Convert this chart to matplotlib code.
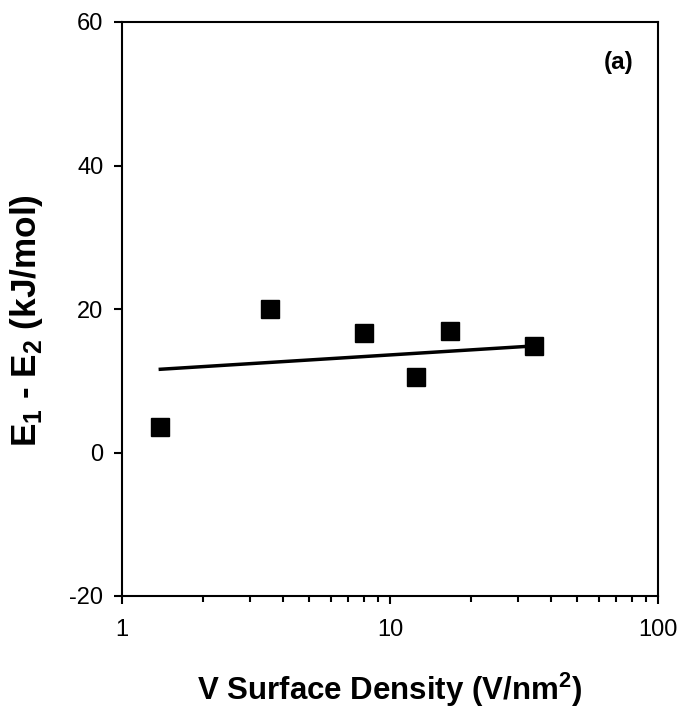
import matplotlib
matplotlib.use("Agg")
import matplotlib.pyplot as plt
from matplotlib.ticker import LogLocator, FixedLocator, NullFormatter, FixedFormatter
import numpy as np

plt.rcParams['font.family'] = ['Liberation Sans', 'DejaVu Sans']
plt.rcParams['mathtext.fontset'] = 'custom'
plt.rcParams['mathtext.rm'] = 'Liberation Sans'
plt.rcParams['mathtext.bf'] = 'Liberation Sans:bold'
plt.rcParams['axes.unicode_minus'] = False

density = [1.39, 3.57, 8.0, 12.5, 16.7, 34.4]
energy_diff = [3.6, 20.0, 16.6, 10.5, 16.9, 14.8]
fit_x = [1.39, 34.4]
fit_y = [11.6, 14.85]

yticks = [-20, 0, 20, 40, 60]
xticks = [1, 10, 100]
xticklabels = ['1', '10', '100']

W, H = 686, 719
fig = plt.figure(figsize=(W / 100, H / 100), dpi=100)
ax = fig.add_axes([122 / W, 1 - 596 / H, (658 - 122) / W, (596 - 22) / H])

ax.plot(fit_x, fit_y, color='black', lw=2.5, zorder=2)
ax.plot(density, energy_diff, linestyle='none', marker='s', ms=12.5, color='black', zorder=3)

ax.set_xscale('log')
ax.set_xlim(1, 100)
ax.set_ylim(-20, 60)
ax.xaxis.set_major_locator(FixedLocator(xticks))
ax.xaxis.set_major_formatter(FixedFormatter(xticklabels))
ax.xaxis.set_minor_locator(LogLocator(base=10, subs=np.arange(2, 10)))
ax.xaxis.set_minor_formatter(NullFormatter())
ax.set_yticks(yticks)
ax.set_yticklabels([str(v) for v in yticks])

ax.tick_params(axis='both', which='major', direction='out', length=5.5, width=1.5, labelsize=17)
ax.tick_params(axis='x', which='major', pad=11)
ax.tick_params(axis='y', which='major', pad=8)
ax.tick_params(axis='x', which='minor', direction='out', length=4, width=1.5)
ax.tick_params(axis='y', which='minor', left=False)
for s in ax.spines.values():
    s.set_linewidth(1.5)

# axis titles, sized to the reference extents (x title ~386 px wide, y title ~253 px tall)
xl = fig.text(390 / W, 1 - 700 / H, r'V Surface Density (V/nm$^\mathbf{2}$)',
              fontsize=20, fontweight='bold', ha='center', va='baseline')
yl = fig.text(36 / W, 1 - 321 / H, r'E$_\mathbf{1}$ - E$_\mathbf{2}$ (kJ/mol)',
              fontsize=20, fontweight='bold', ha='center', va='baseline', rotation=90,
              rotation_mode='anchor')
fig.canvas.draw()
r = fig.canvas.get_renderer()
xl.set_fontsize(20 * 386 / xl.get_window_extent(r).width)
yl.set_fontsize(20 * 253 / yl.get_window_extent(r).height)

ax.text(0.955, 0.93, '(a)', transform=ax.transAxes, ha='right', va='center',
        fontsize=17.5, fontweight='bold')

fig.savefig('out.png', dpi=100)
